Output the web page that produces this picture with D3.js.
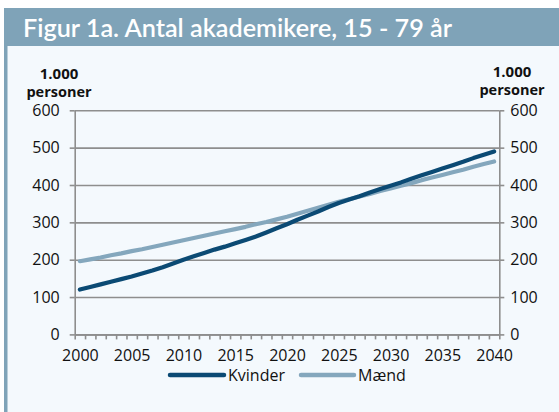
<!DOCTYPE html>
<html>
<head>
<meta charset="utf-8">
<script src="https://cdn.jsdelivr.net/npm/d3@7"></script>
<style>
  html, body { margin: 0; padding: 0; background: #ffffff; }
  svg { display: block; }
  .tick text { font-family: "Open Sans", sans-serif; font-size: 16px; fill: #111; }
</style>
</head>
<body>
<script>
(function () {
  'use strict';

  // data -------------------------------------------------------------------
  const years = d3.range(2000, 2041);
  const kvinder = [120, 127, 134, 141, 148, 155, 163, 171, 180, 190,
                   200, 209, 218, 227, 235, 244, 253, 262, 273, 284,
                   295, 307, 318, 329, 341, 352, 361, 370, 380, 389,
                   398, 407, 417, 426, 435, 444, 453, 462, 472, 481, 490];
  const maend   = [196, 201, 206, 212, 217, 223, 228, 234, 240, 246,
                   252, 258, 264, 270, 276, 282, 288, 295, 301, 308,
                   315, 323, 331, 339, 347, 355, 362, 369, 376, 384,
                   391, 398, 405, 413, 420, 427, 434, 441, 449, 456, 463];
  const xLabels = [2000, 2005, 2010, 2015, 2020, 2025, 2030, 2035, 2040];
  const yTicks  = [0, 100, 200, 300, 400, 500, 600];
  const seriesNames = ['Kvinder', 'Mænd'];
  const colors = ['#0b4a74', '#84a7bd'];

  const W = 559, H = 412;
  const plot = { left: 74.7, right: 499.3, top: 110.3, bottom: 334.4 };

  const svg = d3.select('body').append('svg')
    .attr('width', W)
    .attr('height', H);

  // frame
  svg.append('rect')
    .attr('x', 4).attr('y', 8).attr('width', W - 4).attr('height', H - 8)
    .attr('fill', '#f4f9fd');
  svg.append('rect')
    .attr('x', 4).attr('y', 8).attr('width', W - 4).attr('height', 38)
    .attr('fill', '#7fa3b8');
  svg.append('rect')
    .attr('x', 4).attr('y', 8).attr('width', 3.5).attr('height', H - 8)
    .attr('fill', '#7fa3b8');

  svg.append('text')
    .attr('x', 23).attr('y', 37)
    .attr('font-family', 'Lato, "Open Sans", sans-serif')
    .attr('font-weight', 600)
    .attr('font-size', 25)
    .attr('fill', '#ffffff')
    .attr('textLength', 429)
    .attr('lengthAdjust', 'spacingAndGlyphs')
    .text('Figur 1a. Antal akademikere, 15 - 79 år');

  // scales
  const x = d3.scaleLinear()
    .domain([1999.5, 2040.5])
    .range([plot.left, plot.right]);
  const y = d3.scaleLinear()
    .domain([0, 600])
    .range([plot.bottom, plot.top]);

  const grey = '#8e8e8e';

  // gridlines
  svg.append('g')
    .attr('class', 'grid')
    .attr('transform', `translate(${plot.left},0)`)
    .call(d3.axisLeft(y).tickValues(yTicks)
      .tickSize(-(plot.right - plot.left)).tickFormat(''))
    .call(g => g.select('.domain').remove())
    .call(g => g.selectAll('line').attr('stroke', grey).attr('stroke-width', 1.6));

  // left axis
  svg.append('g')
    .attr('transform', `translate(${plot.left},0)`)
    .call(d3.axisLeft(y).tickValues(yTicks).tickSizeInner(5).tickSizeOuter(0).tickPadding(10))
    .call(g => g.select('.domain').attr('stroke', grey).attr('stroke-width', 1.6))
    .call(g => g.selectAll('line').attr('stroke', grey).attr('stroke-width', 1.6));

  // right axis
  svg.append('g')
    .attr('transform', `translate(${plot.right},0)`)
    .call(d3.axisRight(y).tickValues(yTicks).tickSizeInner(5).tickSizeOuter(0).tickPadding(6))
    .call(g => g.select('.domain').attr('stroke', grey).attr('stroke-width', 1.6))
    .call(g => g.selectAll('line').attr('stroke', grey).attr('stroke-width', 1.6));

  // x axis: ticks between categories
  svg.append('g')
    .attr('transform', `translate(0,${plot.bottom})`)
    .call(d3.axisBottom(x).tickValues(d3.range(1999.5, 2041, 1))
      .tickSizeInner(5).tickSizeOuter(0).tickFormat(''))
    .call(g => g.select('.domain').attr('stroke', grey).attr('stroke-width', 1.6))
    .call(g => g.selectAll('line').attr('stroke', grey).attr('stroke-width', 1.6));

  // x labels centred on categories
  svg.append('g')
    .attr('transform', `translate(0,${plot.bottom})`)
    .call(d3.axisBottom(x).tickValues(xLabels).tickSize(0).tickPadding(15).tickFormat(d3.format('d')))
    .call(g => g.select('.domain').remove());

  // unit labels
  const unit = [
    { cx: 59, y1: 79, y2: 97 },
    { cx: 512, y1: 77, y2: 95 }
  ];
  unit.forEach(u => {
    svg.append('text')
      .attr('x', u.cx).attr('y', u.y1)
      .attr('text-anchor', 'middle')
      .attr('font-family', '"Open Sans", sans-serif')
      .attr('font-weight', 700).attr('font-size', 15)
      .attr('fill', '#111')
      .text('1.000');
    svg.append('text')
      .attr('x', u.cx).attr('y', u.y2)
      .attr('text-anchor', 'middle')
      .attr('font-family', '"Open Sans", sans-serif')
      .attr('font-weight', 700).attr('font-size', 14.5)
      .attr('fill', '#111')
      .text('personer');
  });

  // lines
  const line = d3.line()
    .x((d, i) => x(years[i]))
    .y(d => y(d));

  [maend, kvinder].forEach((s, k) => {
    svg.append('path')
      .datum(s)
      .attr('fill', 'none')
      .attr('stroke', k === 0 ? colors[1] : colors[0])
      .attr('stroke-width', 4.2)
      .attr('stroke-linecap', 'round')
      .attr('stroke-linejoin', 'round')
      .attr('d', line);
  });

  // legend
  const legend = [
    { x1: 170, x2: 224, tx: 228 },
    { x1: 301, x2: 354, tx: 358 }
  ];
  legend.forEach((l, i) => {
    svg.append('line')
      .attr('x1', l.x1).attr('x2', l.x2)
      .attr('y1', 375).attr('y2', 375)
      .attr('stroke', colors[i])
      .attr('stroke-width', 4.5)
      .attr('stroke-linecap', 'round');
    svg.append('text')
      .attr('x', l.tx).attr('y', 381)
      .attr('font-family', '"Open Sans", sans-serif')
      .attr('font-size', 16)
      .attr('fill', '#111')
      .text(seriesNames[i]);
  });
})();
</script>
</body>
</html>
